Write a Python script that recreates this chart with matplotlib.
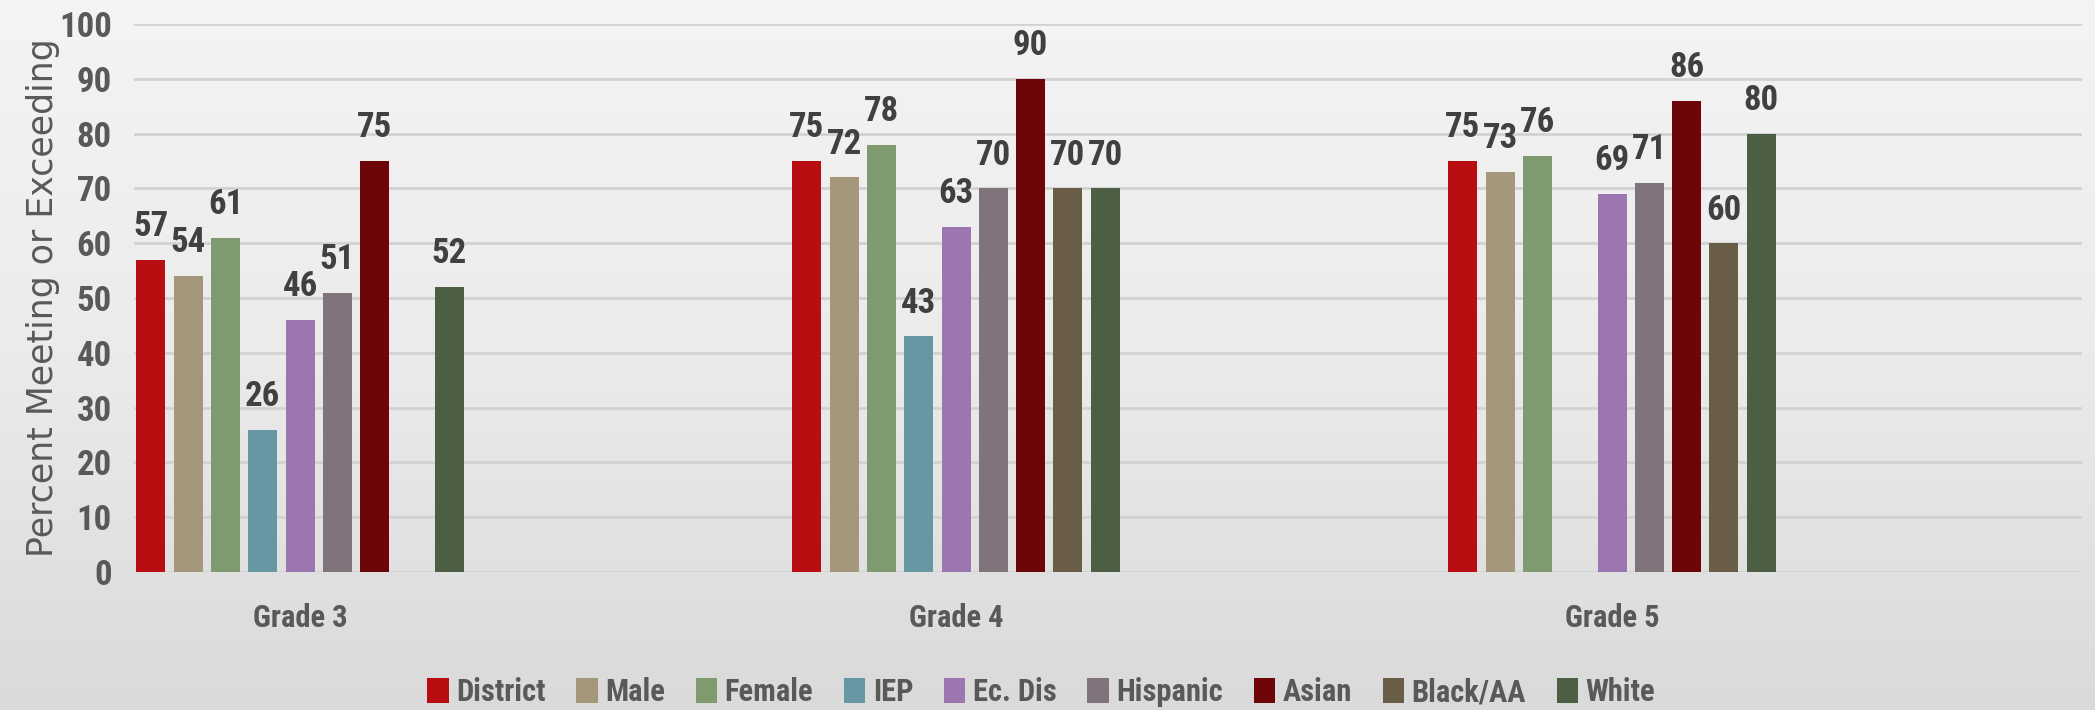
import numpy as np
import matplotlib
matplotlib.use("Agg")
import matplotlib.pyplot as plt
from matplotlib import font_manager
from matplotlib.patches import Patch
from matplotlib.colors import LinearSegmentedColormap

# ---- data ----
grades = ["Grade 3", "Grade 4", "Grade 5"]
groups = ["District", "Male", "Female", "IEP", "Ec. Dis", "Hispanic", "Asian", "Black/AA", "White"]
district = [57, 75, 75]
male = [54, 72, 73]
female = [61, 78, 76]
iep = [26, 43, np.nan]
ec_dis = [46, 63, 69]
hispanic = [51, 70, 71]
asian = [75, 90, 86]
black_aa = [np.nan, 70, 60]
white = [52, 70, 80]
y_ticks = [0, 10, 20, 30, 40, 50, 60, 70, 80, 90, 100]

series = [district, male, female, iep, ec_dis, hispanic, asian, black_aa, white]
colors = ["#B90E11", "#A5977A", "#7F9A6E", "#6697A3", "#9B76B1",
          "#80737B", "#6E0508", "#695D47", "#4C5E43"]

# ---- fonts ----
available = {f.name for f in font_manager.fontManager.ttflist}
cond_candidates = ["Liberation Sans Narrow", "Roboto Condensed", "DejaVu Sans Condensed",
                   "Open Sans Condensed", "Roboto", "DejaVu Sans"]
cond = [c for c in cond_candidates if c in available] or ["DejaVu Sans"]
cond_font = cond[0]
label_gray = "#595959"
value_gray = "#404040"

fig = plt.figure(figsize=(20.95, 7.10), dpi=100)

# background gradient
bg = fig.add_axes([0, 0, 1, 1], zorder=-10)
grad = np.linspace(0, 1, 256).reshape(-1, 1)
cmap = LinearSegmentedColormap.from_list("bg", ["#F4F4F4", "#EBEBEB", "#DADADA"])
bg.imshow(grad, aspect="auto", cmap=cmap, extent=[0, 1, 0, 1])
bg.set_axis_off()

ax = fig.add_axes([134 / 2095, (710 - 572) / 710, (2082 - 134) / 2095, (572 - 24) / 710])
ax.set_facecolor("none")

x = np.arange(len(grades))
slot = 37.3 / 656
width = 29.0 / 656
n = len(series)
for i, (vals, col, name) in enumerate(zip(series, colors, groups)):
    pos = x + (i - (n - 1) / 2) * slot
    bars = ax.bar(pos, vals, width=width, color=col, label=name, zorder=3)
    for b, v in zip(bars, vals):
        if np.isnan(v):
            continue
        ax.annotate(f"{int(v)}", (b.get_x() + b.get_width() / 2, v),
                    xytext=(0, 12), textcoords="offset points",
                    ha="center", va="bottom", fontsize=25, fontweight="bold",
                    family=cond_font, color=value_gray, zorder=4)

ax.set_ylim(0, 100)
ax.set_yticks(y_ticks)
ax.set_xlim((134 - 300) / 656, (2082 - 300) / 656)
ax.set_xticks(x)
ax.set_xticklabels(grades)
ax.grid(axis="y", color="#D2D2D2", linewidth=2, zorder=0)
ax.set_axisbelow(True)
for s in ax.spines.values():
    s.set_visible(False)
ax.tick_params(axis="both", length=0)
ax.tick_params(axis="y", pad=16)
ax.tick_params(axis="x", pad=22)
for lab in ax.get_yticklabels() + ax.get_xticklabels():
    lab.set_fontfamily(cond_font)
    lab.set_fontweight("bold")
    lab.set_fontsize(25)
    lab.set_color(label_gray)
for lab in ax.get_xticklabels():
    lab.set_fontsize(22)

ax.set_ylabel("Percent Meeting or Exceeding", fontsize=25, color=label_gray,
              family="DejaVu Sans")
ax.yaxis.set_label_coords(-0.038, 0.5)

handles = [Patch(facecolor=c, label=g) for c, g in zip(colors, groups)]
leg = fig.legend(handles=handles, loc="center", bbox_to_anchor=(0.497, 1 - 692 / 710),
                 ncol=len(groups), frameon=False, handlelength=0.7, handleheight=0.85,
                 handletextpad=0.25, columnspacing=1.0,
                 prop={"family": cond_font, "weight": "bold", "size": 22})
for t in leg.get_texts():
    t.set_color(label_gray)

fig.savefig("out.png", dpi=100)
